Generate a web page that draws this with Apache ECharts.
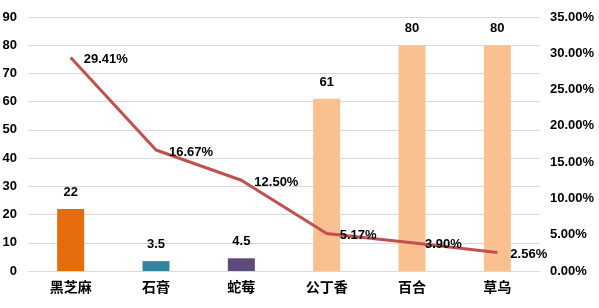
<!DOCTYPE html>
<html><head><meta charset="utf-8">
<script src="https://cdn.jsdelivr.net/npm/echarts@6/dist/echarts.min.js"></script>
<style>html,body{margin:0;padding:0;background:#fff}#c{width:599px;height:308px}</style>
</head><body><div id="c"></div>
<script>
const categories = ['黑芝麻','石膏','蛇莓','公丁香','百合','草乌'];
const barValues = [22, 3.5, 4.5, 61, 80, 80];
const barColors = ['#E46C0A','#31859C','#604A7B','#FAC090','#FAC090','#FAC090'];
const lineValues = [29.41, 16.67, 12.50, 5.17, 3.90, 2.56];
const font = '"Liberation Sans", Arial, "Noto Sans CJK SC", sans-serif';
const chart = echarts.init(document.getElementById('c'));
chart.setOption({
  animation: false,
  grid: {left: 28, right: 59, top: 17, bottom: 37, containLabel: false, outerBoundsMode: 'none'},
  xAxis: {type: 'category', data: categories,
    axisLine: {show: false}, axisTick: {show: false},
    axisLabel: {color: '#000', fontWeight: 'bold', fontSize: 14, fontFamily: '"Noto Sans CJK SC", sans-serif', margin: 9}},
  yAxis: [
    {type: 'value', min: 0, max: 90, interval: 10,
      splitLine: {lineStyle: {color: '#D9D9D9'}},
      axisLabel: {color: '#000', fontWeight: 'bold', fontSize: 13, fontFamily: font, margin: 11}},
    {type: 'value', min: 0, max: 35, interval: 5, splitLine: {show: false},
      axisLabel: {color: '#000', fontWeight: 'bold', fontSize: 13, fontFamily: font, margin: 10,
        formatter: v => v.toFixed(2) + '%'}}
  ],
  series: [
    {type: 'bar', data: barValues.map((v,i)=>({value: v, itemStyle: {color: barColors[i]}})),
      barWidth: 27,
      label: {show: true, position: 'top', distance: 10, color: '#000', fontWeight: 'bold', fontSize: 13, fontFamily: font}},
    {type: 'line', yAxisIndex: 1, data: lineValues, symbol: 'circle', symbolSize: 2, showSymbol: true, showAllSymbol: true,
      itemStyle: {color: 'rgba(192,80,77,0)'},
      lineStyle: {color: '#C0504D', width: 3},
      label: {show: true, position: 'right', distance: 12, offset: [0, 2], color: '#000', fontWeight: 'bold', fontSize: 13, fontFamily: font,
        formatter: p => p.value.toFixed(2) + '%'}}
  ]
});
</script></body></html>
